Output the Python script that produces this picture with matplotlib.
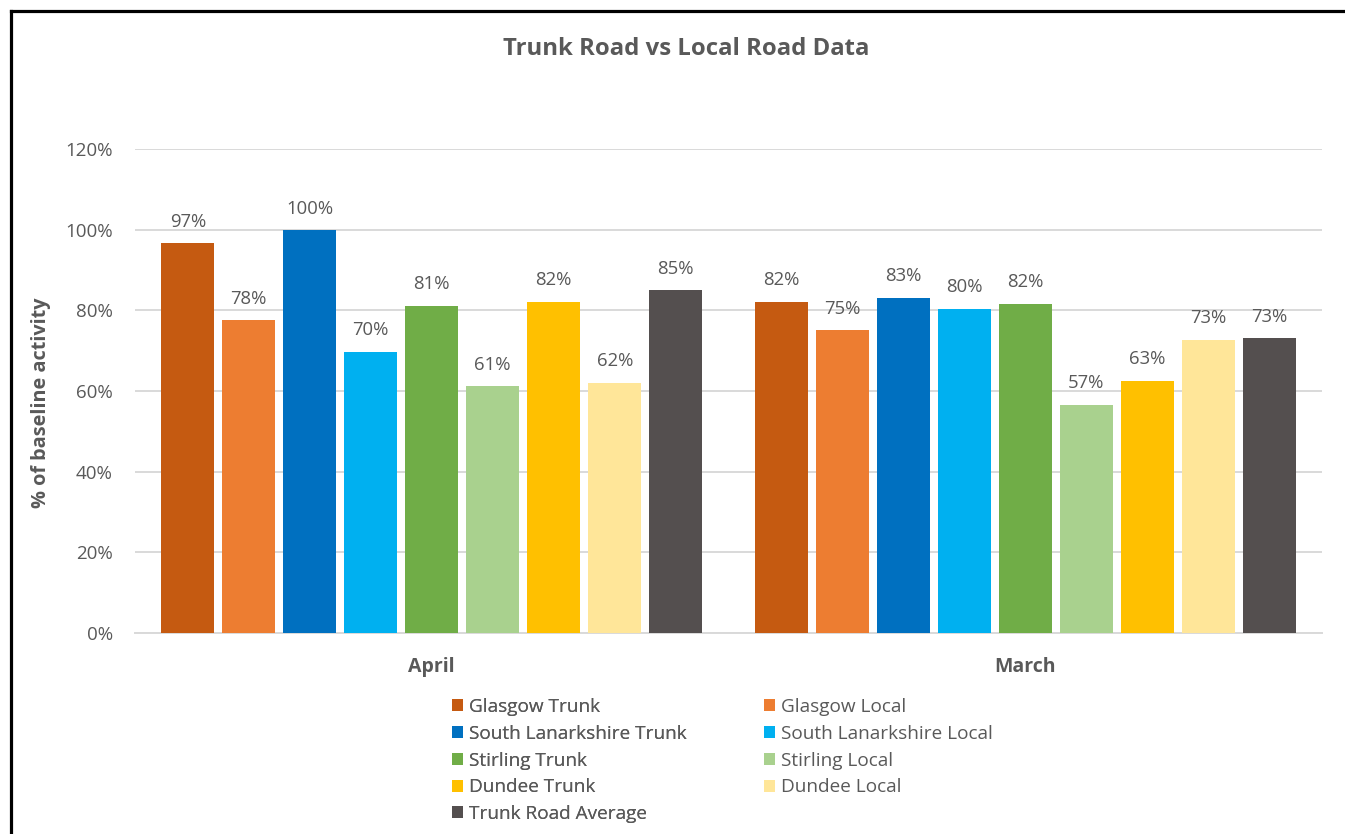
import matplotlib
matplotlib.use("Agg")
import matplotlib.pyplot as plt
import numpy as np
from matplotlib.lines import Line2D
from matplotlib.patches import Patch

plt.rcParams['font.family'] = ['Open Sans', 'DejaVu Sans']

categories = ["April", "March"]
series = ["Glasgow Trunk", "Glasgow Local", "South Lanarkshire Trunk",
          "South Lanarkshire Local", "Stirling Trunk", "Stirling Local",
          "Dundee Trunk", "Dundee Local", "Trunk Road Average"]
april = [0.966, 0.776, 0.999, 0.697, 0.811, 0.612, 0.821, 0.620, 0.850]
march = [0.821, 0.751, 0.831, 0.804, 0.816, 0.566, 0.626, 0.727, 0.731]
colors = ["#C55A11", "#ED7D31", "#0070C0", "#00B0F0", "#70AD47",
          "#A9D18E", "#FFC000", "#FFE699", "#544F4F"]
yticks = [0, 0.2, 0.4, 0.6, 0.8, 1.0, 1.2]

W, H = 1345, 834
fig = plt.figure(figsize=(W / 100, H / 100), dpi=100)
fig.patch.set_facecolor("white")

x0, x1 = 135, 1322
ytop, ybot = 149, 633
ax = fig.add_axes([x0 / W, 1 - ybot / H, (x1 - x0) / W, (ybot - ytop) / H])

txt = "#595959"
n = len(series)
group_w = 0.925
slot = group_w / n
bw = slot * 0.87
xc = np.arange(len(categories))
vals = np.array([april, march])
for i in range(n):
    xs = xc - group_w / 2 + slot * (i + 0.5)
    bars = ax.bar(xs, vals[:, i], width=bw, color=colors[i], zorder=3, label=series[i])
    for b, v in zip(bars, vals[:, i]):
        ax.annotate(f"{v*100:.0f}%", (b.get_x() + b.get_width() / 2, v),
                    xytext=(0, 9), textcoords="offset points", ha="center",
                    va="bottom", fontsize=13.3, color=txt)

ax.set_xlim(-0.5, 1.5)
ax.set_ylim(0, 1.2)
ax.set_yticks(yticks)
ax.set_yticklabels([f"{int(round(t*100))}%" for t in yticks], fontsize=13.5, color=txt)
ax.set_xticks(xc)
ax.set_xticklabels(categories, fontsize=14, fontweight="bold", color=txt)
ax.tick_params(axis="both", length=0)
ax.tick_params(axis="y", pad=16)
ax.tick_params(axis="x", pad=17)
ax.grid(axis="y", color="#D9D9D9", linewidth=1.4, zorder=0)
for s in ["top", "right", "left"]:
    ax.spines[s].set_visible(False)
ax.spines["bottom"].set_color("#D9D9D9")
ax.spines["bottom"].set_linewidth(1.4)
ax.set_facecolor("none")

fig.text(41 / W, 1 - 403 / H, "% of baseline activity", rotation=90, ha="center",
         va="center", fontsize=14.3, fontweight="bold", color=txt)
fig.text(686 / W, 1 - 49 / H, "Trunk Road vs Local Road Data", ha="center",
         va="center", fontsize=17.2, fontweight="bold", color=txt)

def add_legend(idx, xpx):
    handles = [Patch(facecolor=colors[i], edgecolor="none") for i in idx]
    labels = [series[i] for i in idx]
    leg = fig.legend(handles, labels, ncol=1, loc="upper left",
                     bbox_to_anchor=(xpx / W, 1 - 698 / H), frameon=False,
                     fontsize=13.7, handlelength=0.6, handleheight=0.6,
                     handletextpad=0.3, labelspacing=0.46,
                     borderaxespad=0, borderpad=0)
    for t in leg.get_texts():
        t.set_color(txt)
    return leg

leg1 = add_legend([0, 2, 4, 6, 8], 452)
fig.add_artist(leg1)
add_legend([1, 3, 5, 7], 764)

lw = 2.3
fig.add_artist(Line2D([11 / W, 11 / W], [-0.05, 1 - 11 / H], transform=fig.transFigure,
                      color="black", linewidth=lw))
fig.add_artist(Line2D([11 / W, 1.05], [1 - 11 / H, 1 - 11 / H], transform=fig.transFigure,
                      color="black", linewidth=lw))

fig.savefig("out.png", dpi=100, facecolor="white")
